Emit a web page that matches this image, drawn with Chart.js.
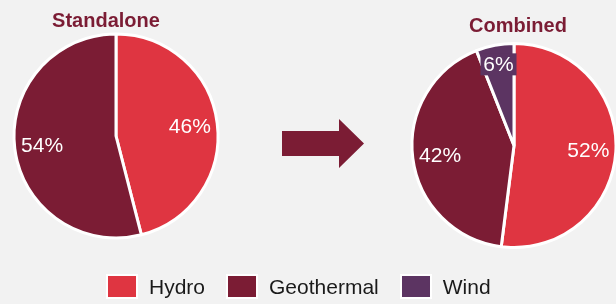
<!DOCTYPE html>
<html>
<head>
<meta charset="utf-8">
<script src="https://cdn.jsdelivr.net/npm/chart.js@4"></script>
<style>
  html, body { margin: 0; padding: 0; background: #f2f2f2; overflow: hidden; }
  body { width: 616px; height: 304px; position: relative; font-family: "Liberation Sans", Arial, sans-serif; }
  #left { position: absolute; left: 0; top: 0; }
  #right { position: absolute; left: 400px; top: 0; }
  #arrow { position: absolute; left: 0; top: 0; }
  #legend { position: absolute; left: 106px; top: 274px; display: flex; align-items: center; }
  .item { display: flex; align-items: center; margin-right: 21px; }
  .box { width: 32px; height: 25px; box-sizing: border-box; border: 2.5px solid #fff; margin-right: 11px; }
  .lbl { font-size: 21px; color: #1a1a1a; line-height: 25px; }
</style>
</head>
<body>
<canvas id="left" width="240" height="250"></canvas>
<canvas id="right" width="220" height="260"></canvas>
<svg id="arrow" width="616" height="304">
  <polygon points="282,131 339,131 339,119 364,143.5 339,168 339,156 282,156" fill="#7b1c34"/>
</svg>
<div id="legend"></div>
<script>
const categories = ['Hydro', 'Geothermal', 'Wind'];
const colors = ['#df3541', '#7b1c34', '#5c3462'];
const standaloneValues = [46, 54];
const combinedValues = [52, 42, 6];

// percentage labels inside the slices
const pctLabels = {
  id: 'pctLabels',
  afterDatasetsDraw(chart) {
    const ctx = chart.ctx;
    const ds = chart.data.datasets[0];
    const meta = chart.getDatasetMeta(0);
    ctx.save();
    ctx.font = '21px "Liberation Sans", Arial, sans-serif';
    ctx.textAlign = 'center';
    ctx.textBaseline = 'middle';
    meta.data.forEach(function (arc, i) {
      const v = ds.data[i];
      const mid = (arc.startAngle + arc.endAngle) / 2;
      const f = v < 10 ? 0.81 : 0.73;
      const x = arc.x + Math.cos(mid) * arc.outerRadius * f;
      const y = arc.y + Math.sin(mid) * arc.outerRadius * f;
      const txt = v + '%';
      if (v < 10) {
        ctx.fillStyle = ds.backgroundColor[i];
        ctx.fillRect(x - 18, y - 11, 36, 22);
      }
      ctx.fillStyle = '#ffffff';
      ctx.fillText(txt, x, y + 1);
    });
    ctx.restore();
  }
};

// title drawn at a set spot above the pie
const pieTitle = {
  id: 'pieTitle',
  afterDraw(chart, args, opts) {
    const ctx = chart.ctx;
    ctx.save();
    ctx.font = 'bold 20px "Liberation Sans", Arial, sans-serif';
    ctx.fillStyle = '#7b1c34';
    ctx.textAlign = 'center';
    ctx.textBaseline = 'alphabetic';
    ctx.fillText(opts.text, opts.x, opts.y);
    ctx.restore();
  }
};

function makePie(id, labels, values, title, pad) {
  return new Chart(document.getElementById(id), {
    type: 'pie',
    data: {
      labels: labels,
      datasets: [{
        data: values,
        backgroundColor: colors.slice(0, values.length),
        borderColor: '#ffffff',
        borderWidth: 3
      }]
    },
    options: {
      responsive: false,
      animation: false,
      layout: { padding: pad },
      plugins: {
        legend: { display: false },
        tooltip: { enabled: false },
        pieTitle: title
      }
    },
    plugins: [pctLabels, pieTitle]
  });
}

makePie('left', categories.slice(0, 2), standaloneValues,
  { text: 'Standalone', x: 106, y: 27 },
  { left: 12.5, top: 32.5, right: 20.5, bottom: 10.5 });

makePie('right', categories, combinedValues,
  { text: 'Combined', x: 118, y: 32 },
  { left: 10.5, top: 42, right: 2.5, bottom: 11 });

// legend
const legend = document.getElementById('legend');
categories.forEach(function (c, i) {
  const item = document.createElement('div');
  item.className = 'item';
  const box = document.createElement('div');
  box.className = 'box';
  box.style.background = colors[i];
  const lbl = document.createElement('span');
  lbl.className = 'lbl';
  lbl.textContent = c;
  item.appendChild(box);
  item.appendChild(lbl);
  legend.appendChild(item);
});
</script>
</body>
</html>
